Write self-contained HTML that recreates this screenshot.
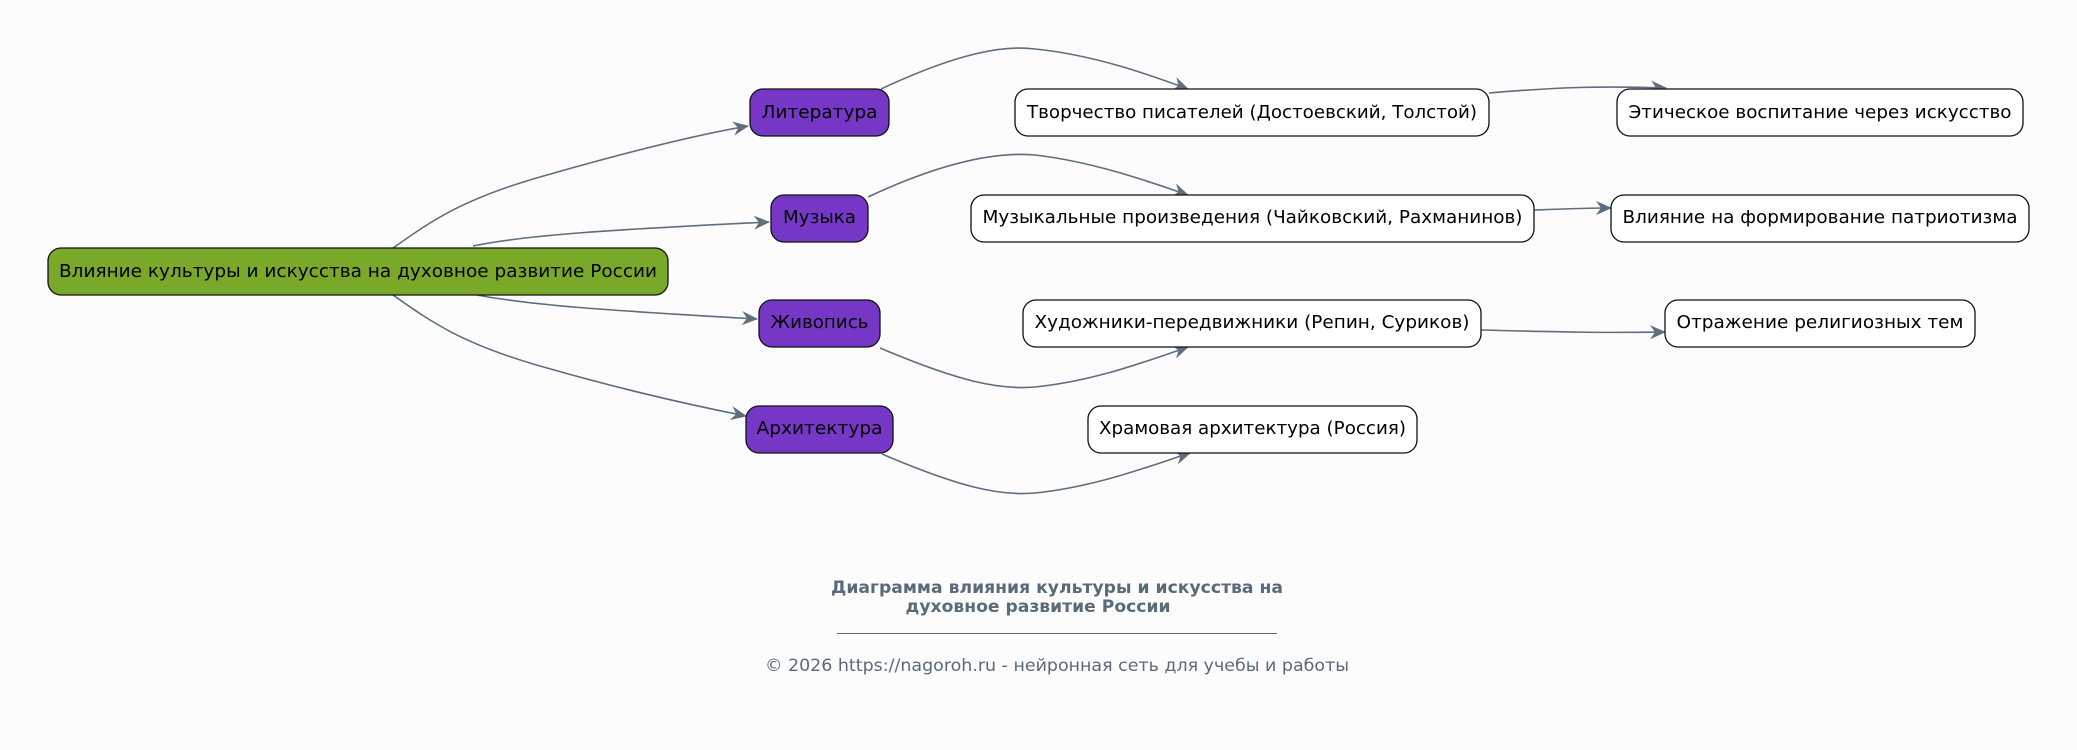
<!DOCTYPE html>
<html><head><meta charset="utf-8"><style>
html,body{margin:0;padding:0;background:#fcfcfc;}
svg{display:block;}
text{font-family:"DejaVu Sans","Liberation Sans",sans-serif;}
</style></head><body>
<svg width="2077" height="750" viewBox="0 0 2077 750" xmlns="http://www.w3.org/2000/svg">
<defs>
<marker id="a" viewBox="0 0 16 14" refX="15" refY="7" markerWidth="16" markerHeight="14" markerUnits="userSpaceOnUse" orient="auto">
<path d="M0,0 L16,7 L0,14 L5,7 z" fill="#5e6e7e"/>
</marker>
</defs>
<rect width="2077" height="750" fill="#fcfcfc"/>
<g fill="none" stroke="#5e6e7e" stroke-width="1.6" marker-end="url(#a)">
<path d="M393,248 C430,222 460,200 540,177 S690,136 748,126"/>
<path d="M473,246 C520,236 600,230 769,222"/>
<path d="M477,295 C530,305 600,310 757,319"/>
<path d="M393,295 C430,321 460,343 540,366 S690,405 746,416"/>
<path d="M881,89 C960,52 1005,45 1035,49 C1095,55 1150,75 1188,89"/>
<path d="M868,197 C947,160 1000,152 1035,155 C1095,162 1150,182 1188,195"/>
<path d="M880,348 C960,382 1000,390 1035,387 C1095,381 1150,360 1188,347"/>
<path d="M882,454 C962,488 1000,496 1035,493 C1095,487 1150,466 1190,453"/>
<path d="M1489,93 C1560,87 1600,86 1666,88"/>
<path d="M1534,210 C1560,209 1585,208 1611,208"/>
<path d="M1481,330 C1560,332 1600,333 1665,332"/>
</g>
<g stroke="#111" stroke-width="1.3">
<rect x="48" y="248" width="620" height="47" rx="13" fill="#7aa92a"/>
<rect x="750" y="89" width="139" height="47" rx="13" fill="#7637c6"/>
<rect x="771" y="195" width="97" height="47" rx="13" fill="#7637c6"/>
<rect x="759" y="300" width="121" height="47" rx="13" fill="#7637c6"/>
<rect x="746" y="406" width="147" height="47" rx="13" fill="#7637c6"/>
<rect x="1015" y="89" width="474" height="47" rx="13" fill="#fff"/>
<rect x="971" y="195" width="563" height="47" rx="13" fill="#fff"/>
<rect x="1023" y="300" width="458" height="47" rx="13" fill="#fff"/>
<rect x="1088" y="406" width="329" height="47" rx="13" fill="#fff"/>
<rect x="1617" y="89" width="406" height="47" rx="13" fill="#fff"/>
<rect x="1611" y="195" width="418" height="47" rx="13" fill="#fff"/>
<rect x="1665" y="300" width="310" height="47" rx="13" fill="#fff"/>
</g>
<g font-size="17.5" fill="#000" text-anchor="middle" dominant-baseline="central">
<text x="358" y="272" textLength="598" lengthAdjust="spacingAndGlyphs">Влияние культуры и искусства на духовное развитие России</text>
<text x="819.5" y="113" textLength="116" lengthAdjust="spacingAndGlyphs">Литература</text>
<text x="819.5" y="218" textLength="73" lengthAdjust="spacingAndGlyphs">Музыка</text>
<text x="819.5" y="323" textLength="98" lengthAdjust="spacingAndGlyphs">Живопись</text>
<text x="819.5" y="429" textLength="126" lengthAdjust="spacingAndGlyphs">Архитектура</text>
<text x="1252" y="113" textLength="450" lengthAdjust="spacingAndGlyphs">Творчество писателей (Достоевский, Толстой)</text>
<text x="1252.5" y="218" textLength="540" lengthAdjust="spacingAndGlyphs">Музыкальные произведения (Чайковский, Рахманинов)</text>
<text x="1252" y="323" textLength="435" lengthAdjust="spacingAndGlyphs">Художники-передвижники (Репин, Суриков)</text>
<text x="1252.5" y="429" textLength="307" lengthAdjust="spacingAndGlyphs">Храмовая архитектура (Россия)</text>
<text x="1820" y="113" textLength="383" lengthAdjust="spacingAndGlyphs">Этическое воспитание через искусство</text>
<text x="1820" y="218" textLength="395" lengthAdjust="spacingAndGlyphs">Влияние на формирование патриотизма</text>
<text x="1820" y="323" textLength="287" lengthAdjust="spacingAndGlyphs">Отражение религиозных тем</text>
</g>
<g fill="#5a6a7a" text-anchor="middle">
<text x="1057" y="593" font-size="16.5" font-weight="bold" textLength="452" lengthAdjust="spacingAndGlyphs">Диаграмма влияния культуры и искусства на</text>
<text x="1038" y="612" font-size="16.5" font-weight="bold" textLength="265" lengthAdjust="spacingAndGlyphs">духовное развитие России</text>
<text x="1057" y="671" font-size="16.5" textLength="584" lengthAdjust="spacingAndGlyphs">© 2026 https://nagoroh.ru - нейронная сеть для учебы и работы</text>
</g>
<line x1="837" y1="633.5" x2="1277" y2="633.5" stroke="#5a6a7a" stroke-width="1"/>
</svg>
</body></html>
